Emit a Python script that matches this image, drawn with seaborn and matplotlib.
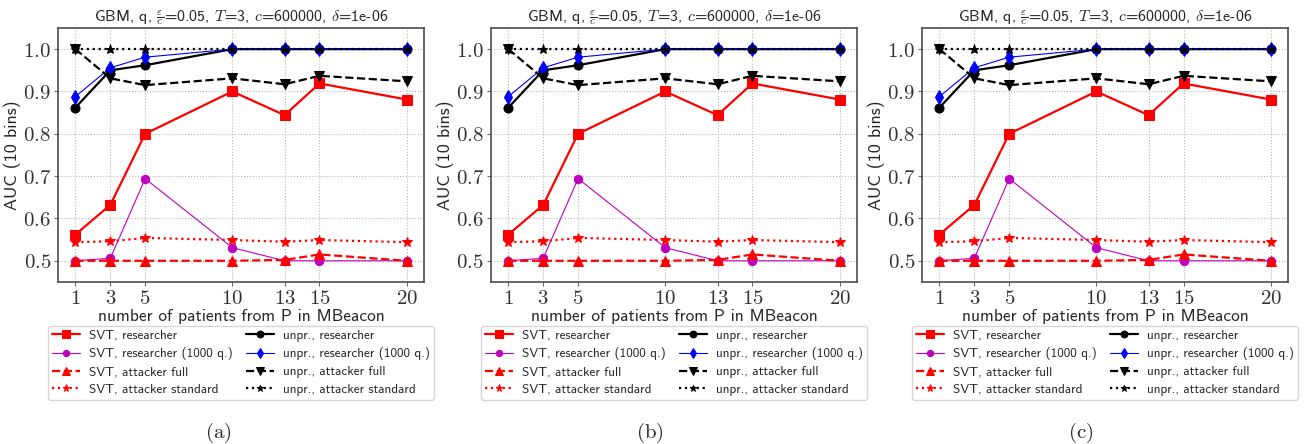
import numpy as np
import pandas as pd
import seaborn as sns
import matplotlib.pyplot as plt
from matplotlib.ticker import FuncFormatter

sns.set_style("whitegrid")
plt.rcParams['font.family'] = ['cmss10', 'DejaVu Sans']
plt.rcParams['mathtext.fontset'] = 'cm'
plt.rcParams['axes.unicode_minus'] = False

# data (same in all three panels)
n_patients = [1, 3, 5, 10, 13, 15, 20]
svt_researcher = [0.562, 0.632, 0.800, 0.900, 0.844, 0.919, 0.881]
svt_researcher_1000 = [0.500, 0.506, 0.694, 0.531, 0.500, 0.500, 0.500]
svt_attacker_full = [0.500, 0.500, 0.500, 0.500, 0.502, 0.515, 0.500]
svt_attacker_std = [0.544, 0.546, 0.554, 0.549, 0.545, 0.549, 0.544]
unpr_researcher = [0.862, 0.950, 0.962, 1.000, 1.000, 1.000, 1.000]
unpr_researcher_1000 = [0.888, 0.956, 0.981, 1.000, 1.000, 1.000, 1.000]
unpr_attacker_full = [1.000, 0.931, 0.915, 0.931, 0.917, 0.937, 0.924]
unpr_attacker_std = [1.000, 1.000, 1.000, 1.000, 1.000, 1.000, 1.000]

x_ticks = [1, 3, 5, 10, 13, 15, 20]
y_ticks = [0.5, 0.6, 0.7, 0.8, 0.9, 1.0]
captions = ['(a)', '(b)', '(c)']

# label, values, color, marker, linestyle, linewidth, markersize
series = [
    ('SVT, researcher', svt_researcher, 'red', 's', '-', 1.6, 7),
    ('SVT, researcher (1000 q.)', svt_researcher_1000, 'm', 'o', '-', 0.8, 6),
    ('SVT, attacker full', svt_attacker_full, 'red', '^', '--', 1.6, 7),
    ('SVT, attacker standard', svt_attacker_std, 'red', '*', ':', 1.6, 7),
    ('unpr., researcher', unpr_researcher, 'black', 'o', '-', 1.6, 6.5),
    ('unpr., researcher (1000 q.)', unpr_researcher_1000, 'blue', 'd', '-', 0.8, 7),
    ('unpr., attacker full', unpr_attacker_full, 'black', 'v', '--', 1.6, 7),
    ('unpr., attacker standard', unpr_attacker_std, 'black', '*', ':', 1.6, 6.5),
]

title = r'GBM, q, $\frac{\varepsilon}{c}$=0.05, $T$=3, $c$=600000, $\delta$=1e-06'

fig, axes = plt.subplots(1, 3, figsize=(13.04, 4.44), dpi=100)
lefts = [0.0445, 0.3765, 0.7071]
cap_x = [218 / 1304, 650 / 1304, 1081 / 1304]

for ax, left, cap, cx in zip(axes, lefts, captions, cap_x):
    ax.set_position([left, 0.365, 0.2807, 0.572])
    for label, vals, col, mk, ls, lw, ms in series:
        sns.lineplot(x=n_patients, y=vals, ax=ax, color=col, marker=mk,
                     linestyle=ls, linewidth=lw, markersize=ms,
                     markeredgecolor=col, label=label)
    ax.set_xlim(0, 21)
    ax.set_ylim(0.45, 1.05)
    ax.set_xticks(x_ticks)
    ax.set_yticks(y_ticks)
    ax.xaxis.set_major_formatter(FuncFormatter(lambda v, p: '$%d$' % v))
    ax.yaxis.set_major_formatter(FuncFormatter(lambda v, p: '$%.1f$' % v))
    ax.tick_params(axis='both', labelsize=15, length=3, width=0.8,
                   color='0.4', labelcolor='0.2', pad=2, bottom=True, left=True)
    ax.grid(True, linestyle=':', color='0.72', linewidth=0.8)
    for sp in ax.spines.values():
        sp.set_visible(True)
        sp.set_color('0.3')
        sp.set_linewidth(1.2)
    ax.set_title(title, fontsize=11.5, pad=5)
    ax.set_xlabel('number of patients from P in MBeacon', fontsize=12.5, labelpad=1)
    ax.set_ylabel('AUC (10 bins)', fontsize=13, labelpad=1)
    ax.legend(loc='upper center', bbox_to_anchor=(0.5, -0.172), ncol=2,
              fontsize=9.5, handlelength=2.1, handletextpad=0.7,
              columnspacing=1.0, labelspacing=0.42, borderpad=0.3,
              markerscale=0.75, frameon=True, fancybox=True,
              edgecolor='0.8', borderaxespad=0)
    fig.text(cx, 0.025, r'$\mathrm{%s}$' % cap, ha='center', va='center', fontsize=15)

fig.savefig('out.png', dpi=100)
